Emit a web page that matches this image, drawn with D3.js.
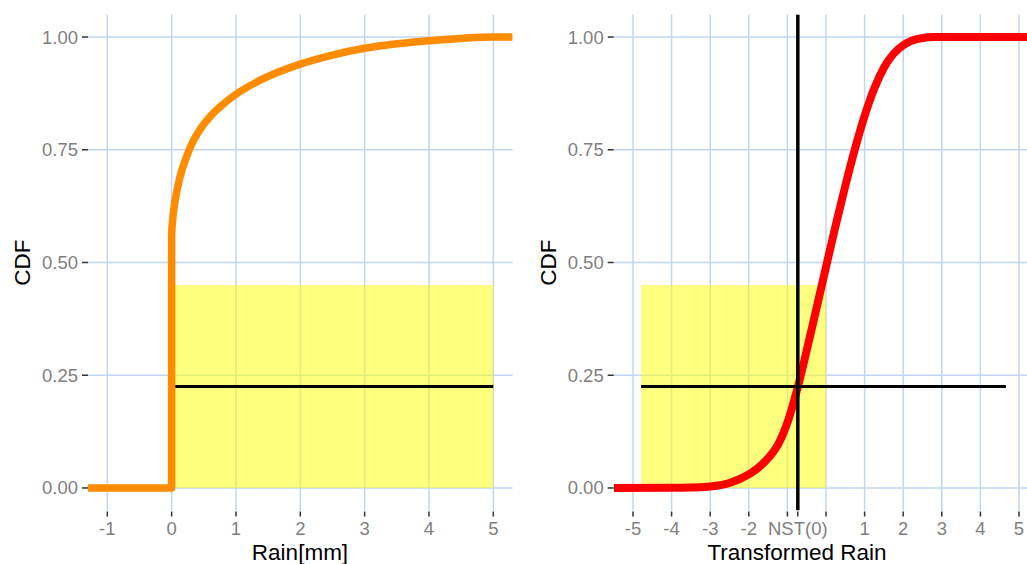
<!DOCTYPE html>
<html>
<head>
<meta charset="utf-8">
<script src="https://cdn.jsdelivr.net/npm/d3@7"></script>
<style>
  html, body { margin: 0; padding: 0; background: #ffffff; }
  svg { display: block; font-family: "Liberation Sans", Arial, sans-serif; }
</style>
</head>
<body>
<svg id="chart" width="1027" height="564"></svg>
<script>
// ---------------- Data ----------------
// Left panel: empirical CDF of rain (mm), with point mass at 0
const rainX   = [-1.3, 0, 0, 0, 0.02, 0.05, 0.1, 0.16, 0.22, 0.31, 0.45, 0.6, 0.8, 1.0, 1.4, 2.0, 2.5, 3.0, 3.5, 4.0, 4.5, 5.0, 5.3];
const rainCDF = [0, 0, 0.45, 0.56, 0.6, 0.633, 0.672, 0.705, 0.73, 0.762, 0.797, 0.824, 0.851, 0.873, 0.906, 0.94, 0.96, 0.975, 0.985, 0.992, 0.997, 1.0, 1.0];
// Right panel: CDF of transformed rain
const transX   = [-5.5, -4, -3.5, -3, -2.5, -2, -1.75, -1.5, -1.25, -1.0, -0.73, -0.5, -0.25, 0, 0.25, 0.5, 0.75, 1.0, 1.25, 1.5, 1.75, 2.0, 2.25, 2.5, 2.8, 3.2, 5.5];
const transCDF = [0, 0.0002, 0.001, 0.003, 0.011, 0.03, 0.045, 0.066, 0.095, 0.145, 0.224, 0.305, 0.397, 0.49, 0.582, 0.67, 0.752, 0.825, 0.886, 0.932, 0.963, 0.982, 0.993, 0.998, 1.0, 1.0, 1.0];

// Highlight rectangles [x0, x1, y0, y1]
const leftRect  = [0, 5, 0, 0.45];
const rightRect = [-4.79, 0, 0, 0.45];
// Reference lines
const leftHLine  = { y: 0.225, x0: 0, x1: 5 };
const rightHLine = { y: 0.225, x0: -4.79, x1: 4.66 };
const nst0 = -0.73;

// Ticks
const yTicks = [0, 0.25, 0.5, 0.75, 1.0];
const yTickLabels = ["0.00", "0.25", "0.50", "0.75", "1.00"];
const leftXTicks = [-1, 0, 1, 2, 3, 4, 5];
const leftXTickLabels = ["-1", "0", "1", "2", "3", "4", "5"];
const rightXTicks = [-5, -4, -3, -2, -1, nst0, 0, 1, 2, 3, 4, 5];
const rightXTickLabels = ["-5", "-4", "-3", "-2", "", "NST(0)", "", "1", "2", "3", "4", "5"];

// ---------------- Layout ----------------
const svg = d3.select("#chart");
const gridColor = "#c2d6f2";
const tickTextColor = "#7f7f7f";
const tickFont = 18.5;
const titleFont = 22.5;

const y = d3.scaleLinear().domain([-0.05, 1.05]).range([510.5, 14.5]);

function panel(opts) {
  const { x, xTicks, xLabels, rect, hline, vline, xs, ys, color, lw, title, titleX, yTitleX, curveOnTop } = opts;
  const g = svg.append("g");
  const [x0, x1] = x.range();
  const [yb, yt] = y.range();
  const clipId = "clip" + Math.round(x0);
  svg.append("clipPath").attr("id", clipId)
    .append("rect").attr("x", x0).attr("y", yt).attr("width", x1 - x0).attr("height", yb - yt);

  // grid
  g.selectAll(".hg").data(yTicks).join("line")
    .attr("x1", x0).attr("x2", x1)
    .attr("y1", d => y(d)).attr("y2", d => y(d))
    .attr("stroke", gridColor).attr("stroke-width", 1.5);
  g.selectAll(".vg").data(xTicks).join("line")
    .attr("x1", d => x(d)).attr("x2", d => x(d))
    .attr("y1", yt).attr("y2", yb)
    .attr("stroke", gridColor).attr("stroke-width", 1.5);

  const pg = g.append("g").attr("clip-path", `url(#${clipId})`);
  // highlight rect
  pg.append("rect")
    .attr("x", x(rect[0])).attr("width", x(rect[1]) - x(rect[0]))
    .attr("y", y(rect[3])).attr("height", y(rect[2]) - y(rect[3]))
    .attr("fill", "yellow").attr("fill-opacity", 0.5);

  const line = d3.line().x(d => x(d[0])).y(d => y(d[1]));
  const pts = xs.map((v, i) => [v, ys[i]]);
  const drawCurve = () => pg.append("path").datum(pts)
    .attr("d", line.curve(d3.curveMonotoneX))
    .attr("fill", "none").attr("stroke", color).attr("stroke-width", lw)
    .attr("stroke-linejoin", "round");
  const drawLines = () => {
    pg.append("line")
      .attr("x1", x(hline.x0)).attr("x2", x(hline.x1))
      .attr("y1", y(hline.y)).attr("y2", y(hline.y))
      .attr("stroke", "#000").attr("stroke-width", 3);
    if (vline !== null) {
      pg.append("line")
        .attr("x1", x(vline)).attr("x2", x(vline))
        .attr("y1", yt).attr("y2", yb)
        .attr("stroke", "#000").attr("stroke-width", 3.5);
    }
  };
  if (curveOnTop) { drawLines(); drawCurve(); } else { drawCurve(); drawLines(); }

  // y axis
  const ya = g.append("g");
  yTicks.forEach((t, i) => {
    ya.append("line").attr("x1", x0 - 6).attr("x2", x0)
      .attr("y1", y(t)).attr("y2", y(t)).attr("stroke", "#333").attr("stroke-width", 1.5);
    ya.append("text").attr("x", x0 - 10).attr("y", y(t)).attr("dy", "0.35em")
      .attr("text-anchor", "end").attr("font-size", tickFont).attr("fill", tickTextColor)
      .text(yTickLabels[i]);
  });
  // x axis
  const xa = g.append("g");
  xTicks.forEach((t, i) => {
    xa.append("line").attr("x1", x(t)).attr("x2", x(t))
      .attr("y1", yb + 1).attr("y2", yb + 6).attr("stroke", "#333").attr("stroke-width", 1.5);
    xa.append("text").attr("x", x(t)).attr("y", 535)
      .attr("text-anchor", "middle").attr("font-size", tickFont).attr("fill", tickTextColor)
      .text(xLabels[i]);
  });
  // titles
  g.append("text").attr("x", titleX).attr("y", 559.5).attr("text-anchor", "middle")
    .attr("font-size", titleFont).attr("fill", "#000").text(title);
  g.append("text").attr("transform", `translate(${yTitleX},${y(0.5)}) rotate(-90)`)
    .attr("text-anchor", "middle").attr("font-size", titleFont).attr("fill", "#000").text("CDF");
}

const xLeft = d3.scaleLinear().domain([-1.3, 5.3]).range([88, 512.6]);
const xRight = d3.scaleLinear().domain([-5.5, 5.5]).range([613.7, 1038.3]);

panel({
  x: xLeft, xTicks: leftXTicks, xLabels: leftXTickLabels, rect: leftRect, hline: leftHLine, vline: null,
  xs: rainX, ys: rainCDF, color: "#ff8c00", lw: 7.5, title: "Rain[mm]", titleX: 300, yTitleX: 30, curveOnTop: true
});
panel({
  x: xRight, xTicks: rightXTicks, xLabels: rightXTickLabels, rect: rightRect, hline: rightHLine, vline: nst0,
  xs: transX, ys: transCDF, color: "#ff0000", lw: 8, title: "Transformed Rain", titleX: 797, yTitleX: 556, curveOnTop: false
});
</script>
</body>
</html>
